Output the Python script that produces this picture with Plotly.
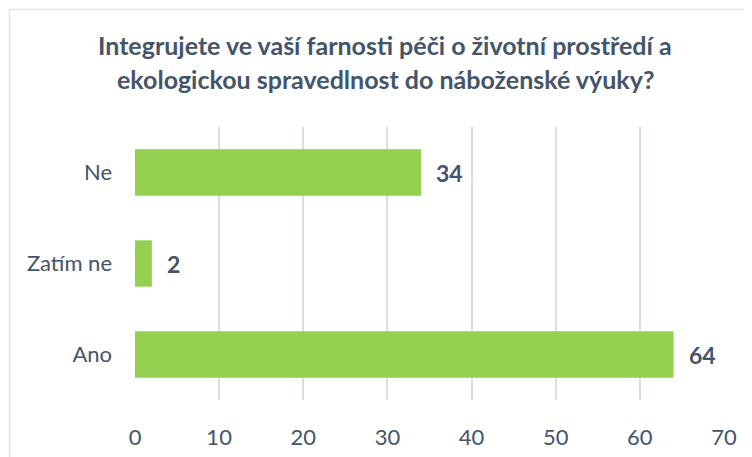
import plotly.graph_objects as go

categories = ["Ano", "Zatím ne", "Ne"]
values = [64, 2, 34]
title_lines = ["Integrujete ve vaší farnosti péči o životní prostředí a",
               "ekologickou spravedlnost do náboženské výuky?"]
x_ticks = [0, 10, 20, 30, 40, 50, 60, 70]

TXT = "#44546A"
FONT = "Lato"

# page body has an 8px margin: figure coords = screen coords - 8
W, H = 744, 449
L, T = 127, 119
R = W - 716
B = H - 392
PW, PH = W - L - R, H - T - B

fig = go.Figure()
fig.add_trace(go.Bar(
    y=categories, x=values, orientation="h",
    marker=dict(color="#92D050", line=dict(width=0)),
    width=0.51, hoverinfo="skip",
))
for c, v in zip(categories, values):
    fig.add_annotation(x=v, y=c, text=f"<b>{v}</b>", showarrow=False,
                       xanchor="left", xshift=13,
                       font=dict(family=FONT, size=23, color=TXT))

# title lines as annotations (screen y centres)
for line, ys in zip(title_lines, [45, 79]):
    fig.add_annotation(xref="paper", yref="paper",
                       x=(385 - 8 - L) / PW, y=1 + (T - (ys - 8)) / PH,
                       text=f"<b>{line}</b>", showarrow=False,
                       xanchor="center", yanchor="middle",
                       font=dict(family=FONT, size=25, color=TXT))

fig.update_layout(
    width=W, height=H,
    margin=dict(l=L, r=R, t=T, b=B, autoexpand=False),
    paper_bgcolor="white", plot_bgcolor="white",
    showlegend=False,
    xaxis=dict(range=[0, 70], tickvals=x_ticks, showgrid=True, automargin=False,
               gridcolor="#D9DEE6", gridwidth=1.5, zeroline=False,
               showline=False, ticks="", ticklen=0, ticklabelstandoff=22,
               tickfont=dict(family=FONT, size=22, color=TXT)),
    yaxis=dict(showgrid=False, zeroline=False, showline=False, ticks="",
               automargin=False, ticklabelstandoff=22,
               tickfont=dict(family=FONT, size=22, color=TXT)),
    shapes=[dict(type="rect", xref="paper", yref="paper",
                 x0=-(L - 1.5) / PW, x1=1.2, y0=-0.4, y1=1 + (T - 1.5) / PH,
                 line=dict(color="#DDE2EA", width=1.5), layer="below")],
)
fig.write_html("out.html")
